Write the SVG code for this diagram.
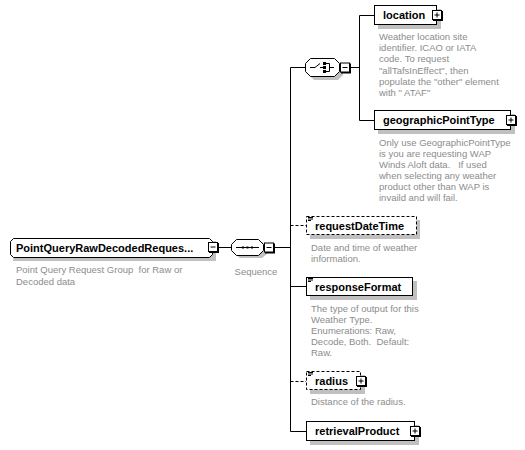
<svg xmlns="http://www.w3.org/2000/svg" width="525" height="450" viewBox="0 0 525 450">
<style>
.nm{font-family:"Liberation Sans",Arial,sans-serif;font-weight:bold;font-size:11px;fill:#000}
.ds{font-family:"Liberation Sans",Arial,sans-serif;font-size:9.5px;fill:#8c8c8c;white-space:pre}
.box{fill:#fff;stroke:#000;stroke-width:1}
.dbox{fill:#fff;stroke:#000;stroke-width:1;stroke-dasharray:3,2}
.sh{fill:#c0c0c0}
.ln{stroke:#000;stroke-width:1;fill:none}
.dl{stroke:#000;stroke-width:1;fill:none;stroke-dasharray:3,2}
.btn{fill:#fff;stroke:#000;stroke-width:1}
</style>
<defs>
<g id="plus"><rect x="1" y="1" width="10" height="10" fill="#000"/><rect class="btn" x="0.5" y="0.5" width="9" height="9"/><path class="ln" d="M2.5 5H7.5M5 2.5V7.5"/></g>
<g id="minus"><rect x="1" y="1" width="10" height="10" fill="#000"/><rect class="btn" x="0.5" y="0.5" width="9" height="9"/><path class="ln" d="M2.5 5H7.5"/></g>
<g id="attr"><path d="M2 1.5H7M2 3H7M2 4.5H5" stroke="#000" stroke-width="1"/></g>
</defs>
<g id="connectors">
<path class="ln" d="M219 247.5H231"/>
<path class="ln" d="M274 247.5H290.5"/>
<path class="ln" d="M290.5 67.5V431.5"/>
<path class="ln" d="M290.5 67.5H305"/>
<path class="ln" d="M350 67.5H359.5"/>
<path class="ln" d="M359.5 15.5V120.5"/>
<path class="ln" d="M359.5 15.5H374"/>
<path class="ln" d="M359.5 120.5H374"/>
<path class="dl" d="M290.5 225.5H306"/>
<path class="ln" d="M290.5 286.5H306"/>
<path class="dl" d="M290.5 381.5H306"/>
<path class="ln" d="M290.5 431.5H306"/>
</g>
<g id="group-node">
<path class="sh" d="M17 241H216V261H13Z"/>
<path class="box" d="M13.5 238.5H209.5L212.5 241.5V254.5L209.5 257.5H13.5L10.5 254.5V241.5Z"/>
<text class="nm" x="16" y="252">PointQueryRawDecodedReques...</text>
<use href="#minus" x="208" y="242"/>
<text class="ds" x="16" y="273" xml:space="preserve">Point Query Request Group  for Raw or</text>
<text class="ds" x="16" y="285">Decoded data</text>
</g>
<g id="sequence">
<path class="sh" d="M240 242H262L267 247V254L262 258H240L235 254Z"/>
<path class="box" d="M236.5 239.5H258.5L263.5 244.5V250.5L258.5 255.5H236.5L231.5 250.5V244.5Z"/>
<path class="ln" d="M236 247.5H259"/>
<rect x="242" y="246.5" width="2" height="2" fill="#000"/>
<rect x="246.5" y="246.5" width="2" height="2" fill="#000"/>
<rect x="251" y="246.5" width="2" height="2" fill="#000"/>
<use href="#minus" x="264" y="242.5"/>
<text class="ds" x="256" y="275" text-anchor="middle">Sequence</text>
</g>
<g id="choice">
<path class="sh" d="M314 62H338L343 67V75L338 80H314L309 75Z"/>
<path class="box" d="M310.5 58.5H334.5L339.5 63.5V71.5L334.5 76.5H310.5L305.5 71.5V63.5Z"/>
<path class="ln" d="M310 67.5H315L320 63.5M320 67.5H324"/>
<rect x="323" y="62" width="3" height="3" fill="#000"/>
<rect x="323" y="66" width="3" height="3" fill="#000"/>
<rect x="323" y="70" width="3" height="3" fill="#000"/>
<path class="ln" d="M326 63.5H329.5V71.5H326M329.5 67.5H334"/>
<use href="#minus" x="340" y="62.5"/>
</g>
<g id="location">
<rect class="sh" x="378" y="9" width="63" height="20"/>
<rect class="box" x="374.5" y="5.5" width="62" height="19"/>
<text class="nm" x="383" y="19">location</text>
<use href="#plus" x="432" y="10"/>
<text class="ds" x="379" y="40">Weather location site</text>
<text class="ds" x="379" y="51.2">identifier. ICAO or IATA</text>
<text class="ds" x="379" y="62.4">code. To request</text>
<text class="ds" x="379" y="73.6">"allTafsInEffect", then</text>
<text class="ds" x="379" y="84.8">populate the "other" element</text>
<text class="ds" x="379" y="96">with " ATAF"</text>
</g>
<g id="geographicPointType">
<rect class="sh" x="378" y="114" width="137" height="20"/>
<rect class="box" x="374.5" y="110.5" width="136" height="19"/>
<text class="nm" x="383" y="124">geographicPointType</text>
<use href="#plus" x="506" y="115"/>
<text class="ds" x="379" y="146">Only use GeographicPointType</text>
<text class="ds" x="379" y="157">is you are requesting WAP</text>
<text class="ds" x="379" y="168" xml:space="preserve">Winds Aloft data.   If used</text>
<text class="ds" x="379" y="179">when selecting any weather</text>
<text class="ds" x="379" y="190">product other than WAP is</text>
<text class="ds" x="379" y="201">invaild and will fail.</text>
</g>
<g id="requestDateTime">
<rect class="sh" x="310" y="220" width="110" height="19"/>
<rect class="dbox" x="306.5" y="216.5" width="110" height="18"/>
<use href="#attr" x="306" y="216"/>
<text class="nm" x="315" y="230">requestDateTime</text>
<text class="ds" x="311" y="251">Date and time of weather</text>
<text class="ds" x="311" y="262">information.</text>
</g>
<g id="responseFormat">
<rect class="sh" x="310" y="281" width="107" height="19"/>
<rect class="box" x="306.5" y="277.5" width="106" height="18"/>
<use href="#attr" x="306" y="277"/>
<text class="nm" x="315" y="291">responseFormat</text>
<text class="ds" x="311" y="312">The type of output for this</text>
<text class="ds" x="311" y="323">Weather Type.</text>
<text class="ds" x="311" y="334">Enumerations: Raw,</text>
<text class="ds" x="311" y="345" xml:space="preserve">Decode, Both.  Default:</text>
<text class="ds" x="311" y="356">Raw.</text>
</g>
<g id="radius">
<rect class="sh" x="310" y="375" width="55" height="19"/>
<rect class="dbox" x="306.5" y="371.5" width="54" height="18"/>
<use href="#attr" x="306" y="371"/>
<text class="nm" x="315" y="385">radius</text>
<use href="#plus" x="356" y="376"/>
<text class="ds" x="311" y="405">Distance of the radius.</text>
</g>
<g id="retrievalProduct">
<rect class="sh" x="310" y="425" width="109" height="20"/>
<rect class="box" x="306.5" y="421.5" width="108" height="19"/>
<text class="nm" x="315" y="435">retrievalProduct</text>
<use href="#plus" x="410" y="426"/>
</g>
</svg>
